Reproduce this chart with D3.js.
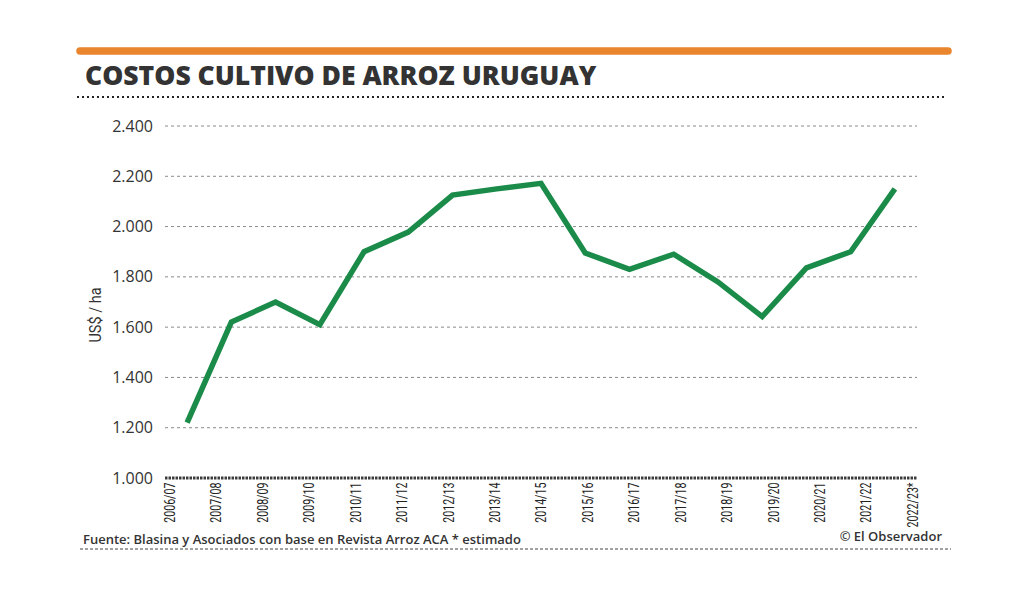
<!DOCTYPE html>
<html>
<head>
<meta charset="utf-8">
<script src="https://cdn.jsdelivr.net/npm/d3@7"></script>
<style>
  html, body { margin: 0; padding: 0; background: #fff; }
  #chart { width: 1024px; height: 597px; }
</style>
</head>
<body>
<div id="chart"></div>
<script>
"use strict";

// Data
const seasons = ["2006/07", "2007/08", "2008/09", "2009/10", "2010/11", "2011/12",
  "2012/13", "2013/14", "2014/15", "2015/16", "2016/17", "2017/18", "2018/19",
  "2019/20", "2020/21", "2021/22", "2022/23*"];
const costs = [1220, 1620, 1700, 1610, 1900, 1978, 2125, 2150, 2172, 1895,
  1830, 1890, 1780, 1642, 1836, 1900, 2150];
const yTicks = [1000, 1200, 1400, 1600, 1800, 2000, 2200, 2400];

const title = "COSTOS CULTIVO DE ARROZ URUGUAY";
const source = "Fuente: Blasina y Asociados con base en Revista Arroz ACA * estimado";
const credit = "© El Observador";

var width = 1024;
var height = 597;

const svg = d3.select("#chart")
  .append("svg")
  .attr("width", width)
  .attr("height", height);

// header
svg.append("line")
  .attr("x1", 80).attr("x2", 948)
  .attr("y1", 51).attr("y2", 51)
  .attr("stroke", "#e8852d")
  .attr("stroke-width", 7.5)
  .attr("stroke-linecap", "round");

svg.append("text")
  .attr("x", 85)
  .attr("y", 85)
  .attr("font-family", "'Open Sans', sans-serif")
  .attr("font-weight", 800)
  .attr("font-size", 26.5)
  .attr("fill", "#333")
  .text(title);

svg.append("line")
  .attr("x1", 77).attr("x2", 947)
  .attr("y1", 97).attr("y2", 97)
  .attr("stroke", "#222")
  .attr("stroke-width", 2)
  .attr("stroke-dasharray", "2,3");

// scales
const plotLeft = 165, plotRight = 917, plotTop = 126, plotBottom = 478;

const y = d3.scaleLinear()
  .domain([1000, 2400])
  .range([plotBottom, plotTop]);

// labels sit on a slightly wider spread than the line points
const xLabel = d3.scalePoint()
  .domain(seasons)
  .range([plotLeft, plotRight])
  .padding(0.1);

const xLine = d3.scalePoint()
  .domain(seasons)
  .range([plotLeft, plotRight])
  .padding(0.5);

const locale = d3.formatLocale({ decimal: ",", thousands: ".", grouping: [3], currency: ["$", ""] });
const fmt = locale.format(",");

// gridlines
svg.append("g")
  .selectAll("line")
  .data(yTicks.filter(d => d > 1000))
  .join("line")
    .attr("x1", plotLeft).attr("x2", plotRight)
    .attr("y1", d => y(d)).attr("y2", d => y(d))
    .attr("stroke", "#8a8a8a")
    .attr("stroke-width", 1)
    .attr("stroke-dasharray", "3,3");

// baseline
svg.append("line")
  .attr("x1", plotLeft).attr("x2", plotRight)
  .attr("y1", y(1000)).attr("y2", y(1000))
  .attr("stroke", "#3c3c3c")
  .attr("stroke-width", 3)
  .attr("stroke-dasharray", "2.5,1");

// y axis
const yAxis = svg.append("g")
  .attr("transform", `translate(${plotLeft},0)`)
  .call(d3.axisLeft(y).tickValues(yTicks).tickFormat(fmt).tickSize(0).tickPadding(12));
yAxis.select(".domain").remove();
yAxis.selectAll("text")
  .attr("font-family", "'Open Sans', sans-serif")
  .attr("font-size", 16)
  .attr("fill", "#333");

// condensed look via horizontal squeeze
svg.append("text")
  .attr("transform", "translate(101,315) rotate(-90) scale(0.88,1)")
  .attr("text-anchor", "middle")
  .attr("font-family", "Roboto, sans-serif")
  .attr("font-size", 16.5)
  .attr("fill", "#333")
  .text("US$ / ha");

// x axis
const xAxis = svg.append("g")
  .attr("transform", `translate(0,${plotBottom})`)
  .call(d3.axisBottom(xLabel).tickSize(0).tickPadding(0));
xAxis.select(".domain").remove();
xAxis.selectAll("text")
  .attr("transform", "rotate(-90) scale(0.76,1)")
  .attr("text-anchor", "end")
  .attr("x", -6)
  .attr("y", 0)
  .attr("dy", "0.35em")
  .attr("font-family", "Roboto, sans-serif")
  .attr("font-size", 14)
  .attr("fill", "#222");

// line
const line = d3.line()
  .x((d, i) => xLine(seasons[i]))
  .y(d => y(d));

svg.append("path")
  .datum(costs)
  .attr("d", line)
  .attr("fill", "none")
  .attr("stroke", "#1a8b48")
  .attr("stroke-width", 5.5)
  .attr("stroke-linejoin", "miter");

// footer
svg.append("text")
  .attr("x", 83)
  .attr("y", 544)
  .attr("font-family", "'Open Sans', sans-serif")
  .attr("font-weight", 600)
  .attr("font-size", 13)
  .attr("fill", "#333")
  .text(source);

svg.append("text")
  .attr("x", 942)
  .attr("y", 541)
  .attr("text-anchor", "end")
  .attr("font-family", "'Open Sans', sans-serif")
  .attr("font-weight", 600)
  .attr("font-size", 13)
  .attr("fill", "#333")
  .text(credit);

svg.append("line")
  .attr("x1", 80).attr("x2", 951)
  .attr("y1", 549).attr("y2", 549)
  .attr("stroke", "#444")
  .attr("stroke-width", 1)
  .attr("stroke-dasharray", "3,2");
</script>
</body>
</html>
